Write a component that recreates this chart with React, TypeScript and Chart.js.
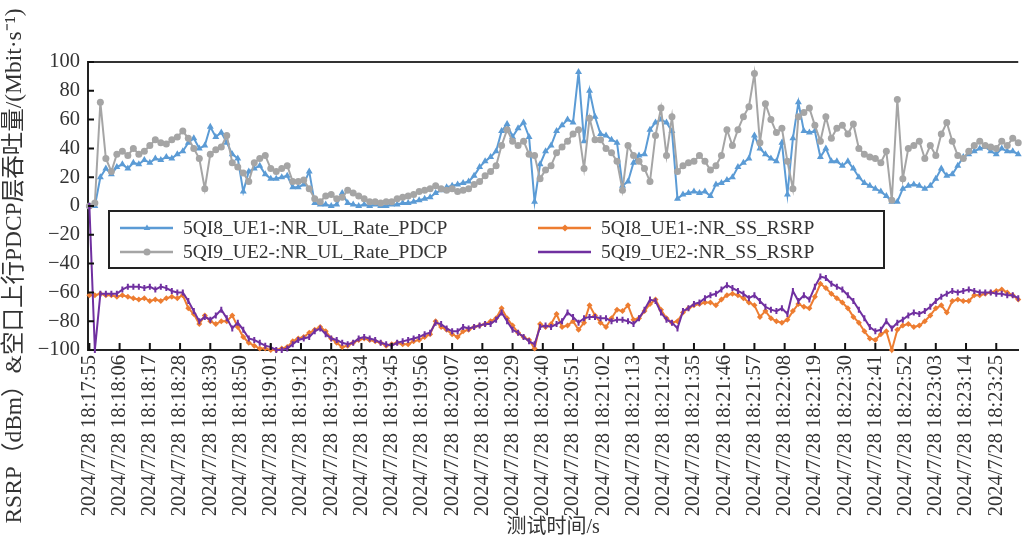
import React, { useEffect, useRef } from "react";
import { Chart, registerables } from "chart.js";
Chart.register(...registerables);

// ---------- data ----------
const seriesNames = [
  "5QI8_UE1-:NR_UL_Rate_PDCP",
  "5QI9_UE2-:NR_UL_Rate_PDCP",
  "5QI8_UE1-:NR_SS_RSRP",
  "5QI9_UE2-:NR_SS_RSRP",
];

const xTickLabels = [
  "2024/7/28 18:17:55", "2024/7/28 18:18:06", "2024/7/28 18:18:17", "2024/7/28 18:18:28",
  "2024/7/28 18:18:39", "2024/7/28 18:18:50", "2024/7/28 18:19:01", "2024/7/28 18:19:12",
  "2024/7/28 18:19:23", "2024/7/28 18:19:34", "2024/7/28 18:19:45", "2024/7/28 18:19:56",
  "2024/7/28 18:20:07", "2024/7/28 18:20:18", "2024/7/28 18:20:29", "2024/7/28 18:20:40",
  "2024/7/28 18:20:51", "2024/7/28 18:21:02", "2024/7/28 18:21:13", "2024/7/28 18:21:24",
  "2024/7/28 18:21:35", "2024/7/28 18:21:46", "2024/7/28 18:21:57", "2024/7/28 18:22:08",
  "2024/7/28 18:22:19", "2024/7/28 18:22:30", "2024/7/28 18:22:41", "2024/7/28 18:22:52",
  "2024/7/28 18:23:03", "2024/7/28 18:23:14", "2024/7/28 18:23:25",
];
const tickIntervalSec = 11;
const sampleStepSec = 2;
const yTicks = [-100, -80, -60, -40, -20, 0, 20, 40, 60, 80, 100];

const ue1Rate = [
  0, 0, 20, 26, 22, 27, 29, 26, 30, 29,
  32, 30, 33, 32, 34, 33, 36, 38, 44, 47,
  40, 42, 55, 48, 51, 44, 36, 33, 10, 24,
  26, 28, 22, 19, 19, 20, 21, 13, 13, 15,
  24, 2, 1, 1, 0, 1, 9, 2, 1, 0,
  1, 0, 1, 0, 0, 1, 1, 2, 2, 3,
  4, 5, 6, 9, 11, 13, 14, 15, 16, 17,
  21, 27, 31, 34, 38, 52, 57, 48, 54, 58,
  48, 3, 29, 38, 42, 52, 56, 60, 58, 93,
  45, 80, 62, 50, 49, 46, 44, 14, 17, 30,
  35, 36, 53, 58, 60, 58, 52, 5, 8, 9,
  10, 9, 10, 7, 15, 16, 18, 20, 27, 30,
  33, 49, 40, 36, 33, 31, 44, 8, 47, 72,
  52, 51, 52, 34, 40, 31, 31, 28, 31, 26,
  20, 16, 14, 12, 10, 7, 3, 3, 12, 14,
  15, 14, 12, 14, 19, 26, 21, 22, 28, 34,
  36, 38, 40, 41, 38, 36, 40, 38, 38, 36,
];

const ue2Rate = [
  0, 2, 72, 33, 24, 36, 38, 35, 40, 36,
  38, 42, 46, 44, 43, 46, 48, 52, 47, 40,
  33, 12, 36, 39, 41, 49, 30, 27, 23, 17,
  30, 33, 35, 26, 24, 26, 28, 17, 17, 18,
  12, 5, 3, 7, 8, 5, 6, 11, 9, 7,
  5, 3, 3, 2, 3, 3, 5, 6, 7, 8,
  10, 11, 12, 14, 12, 11, 12, 10, 11, 12,
  15, 17, 21, 24, 28, 42, 53, 45, 42, 45,
  36, 35, 19, 25, 28, 37, 41, 45, 50, 53,
  26, 61, 46, 46, 40, 37, 31, 11, 42, 35,
  31, 26, 17, 49, 68, 35, 62, 24, 28, 30,
  31, 35, 31, 25, 28, 35, 53, 42, 53, 62,
  69, 92, 44, 71, 60, 51, 54, 31, 12, 62,
  65, 68, 56, 45, 62, 47, 54, 56, 50, 57,
  40, 36, 34, 33, 30, 38, 4, 74, 19, 40,
  42, 45, 33, 42, 35, 50, 58, 45, 35, 33,
  38, 42, 45, 42, 41, 40, 45, 42, 47, 44,
];

const ue1Rsrp = [
  -62, -62, -61, -62, -62, -63, -62, -63, -64, -65,
  -64, -66, -65, -66, -64, -63, -64, -62, -71, -75,
  -82, -76, -80, -82, -80, -80, -76, -84, -91, -95,
  -97, -99, -99, -100, -100, -99, -98, -94, -92, -91,
  -88, -86, -84, -87, -92, -95, -98, -97, -95, -93,
  -92, -93, -94, -95, -97, -96, -95, -96, -96, -94,
  -93, -91, -89, -80, -84, -86, -89, -91, -87, -86,
  -84, -83, -82, -80, -78, -71, -78, -83, -88, -91,
  -93, -99, -82, -84, -82, -75, -84, -83, -80, -86,
  -81, -69, -76, -81, -84, -78, -72, -73, -69, -79,
  -78, -73, -68, -65, -72, -78, -81, -80, -74, -71,
  -69, -68, -67, -67, -69, -65, -62, -61, -62, -64,
  -67, -69, -77, -73, -78, -80, -81, -79, -73, -68,
  -70, -71, -63, -54, -57, -61, -64, -67, -71, -77,
  -81, -87, -92, -93, -89, -87, -100, -86, -83, -82,
  -84, -83, -80, -76, -71, -69, -74, -66, -65, -66,
  -66, -62, -62, -61, -60, -59, -58, -60, -62, -65,
];

const ue2Rsrp = [
  0, -100, -61, -61, -61, -61, -58, -56, -56, -56,
  -57, -56, -58, -56, -57, -59, -60, -60, -66, -73,
  -80, -77, -79, -76, -72, -78, -85, -81, -86, -92,
  -93, -95, -97, -98, -100, -100, -99, -96, -93, -92,
  -91, -87, -85, -89, -92, -93, -95, -96, -95, -92,
  -91, -92, -93, -95, -96, -97, -95, -94, -93, -92,
  -91, -89, -88, -81, -82, -85, -87, -87, -84, -85,
  -84, -83, -82, -82, -79, -74, -80, -86, -88, -91,
  -94, -96, -84, -83, -84, -82, -80, -74, -77, -81,
  -78, -77, -77, -78, -78, -80, -79, -79, -80, -82,
  -78, -72, -65, -66, -74, -79, -81, -85, -73, -71,
  -68, -67, -64, -62, -61, -58, -55, -57, -59, -61,
  -64, -62, -66, -70, -72, -73, -71, -75, -59, -66,
  -62, -65, -56, -49, -50, -54, -56, -58, -62, -66,
  -72, -78, -84, -87, -86, -80, -85, -81, -79, -76,
  -74, -75, -73, -70, -66, -63, -61, -59, -60, -59,
  -58, -59, -60, -60, -60, -61, -61, -62, -62, -64,
];

const yTitle = "RSRP（dBm）&空口上行PDCP层吞吐量/(Mbit·s⁻¹)";
const xTitle = "测试时间/s";

// ---------- styles ----------
const FONT = "'Liberation Serif', 'Noto Sans CJK SC', serif";
const TEXT = "#333333";
const colors = ["#5B9BD5", "#A5A5A5", "#ED7D31", "#7030A0"];
const markers = ["triangle", "circle", "rectRot", "line"];

const toXY = (arr: number[]) => arr.map((v, i) => ({ x: i * sampleStepSec, y: v }));

function drawMarker(ctx: CanvasRenderingContext2D, style: string, x: number, y: number, r: number, color: string) {
  ctx.save();
  ctx.fillStyle = color;
  ctx.strokeStyle = color;
  ctx.lineWidth = 2;
  ctx.beginPath();
  if (style === "triangle") {
    ctx.moveTo(x, y - r);
    ctx.lineTo(x + r * 0.95, y + r * 0.6);
    ctx.lineTo(x - r * 0.95, y + r * 0.6);
    ctx.closePath();
    ctx.fill();
  } else if (style === "circle") {
    ctx.arc(x, y, r, 0, Math.PI * 2);
    ctx.fill();
  } else if (style === "rectRot") {
    ctx.moveTo(x, y - r);
    ctx.lineTo(x + r, y);
    ctx.lineTo(x, y + r);
    ctx.lineTo(x - r, y);
    ctx.closePath();
    ctx.fill();
  }
  ctx.restore();
}

const decorPlugin = {
  id: "decor",
  afterDraw(chart: any) {
    const { ctx, chartArea: a, scales } = chart;
    const xs = scales.x;
    const ys = scales.y;
    ctx.save();
    // top frame
    ctx.strokeStyle = "#333";
    ctx.lineWidth = 2;
    ctx.beginPath();
    ctx.moveTo(a.left, a.top);
    ctx.lineTo(a.right, a.top);
    ctx.stroke();
    // inward ticks
    ctx.strokeStyle = "#111";
    ctx.lineWidth = 2;
    ctx.beginPath();
    for (const t of ys.ticks) {
      const y = ys.getPixelForValue(t.value);
      ctx.moveTo(a.left, y);
      ctx.lineTo(a.left + 6, y);
    }
    for (const t of xs.ticks) {
      const x = xs.getPixelForValue(t.value);
      ctx.moveTo(x, a.bottom);
      ctx.lineTo(x, a.bottom - 7);
    }
    ctx.stroke();

    // legend
    const bx = 109, by = 211, bw = 775, bh = 57;
    ctx.fillStyle = "#fff";
    ctx.fillRect(bx, by, bw, bh);
    ctx.strokeStyle = "#222";
    ctx.lineWidth = 2;
    ctx.strokeRect(bx, by, bw, bh);
    const order = [0, 2, 1, 3];
    const colX = [120, 538];
    const rowY = [228, 252];
    ctx.font = `19.5px ${FONT}`;
    ctx.textBaseline = "middle";
    ctx.textAlign = "left";
    order.forEach((si, k) => {
      const col = k % 2;
      const row = Math.floor(k / 2);
      const lx = colX[col];
      const ly = rowY[row];
      ctx.strokeStyle = colors[si];
      ctx.lineWidth = 2.5;
      ctx.beginPath();
      ctx.moveTo(lx, ly);
      ctx.lineTo(lx + 53, ly);
      ctx.stroke();
      drawMarker(ctx, markers[si], lx + 27, ly, 3.5, colors[si]);
      ctx.fillStyle = TEXT;
      ctx.fillText(seriesNames[si], lx + 63, ly + 1);
    });

    // axis titles
    ctx.fillStyle = TEXT;
    ctx.font = `23.5px ${FONT}`;
    ctx.textAlign = "center";
    ctx.textBaseline = "middle";
    ctx.save();
    ctx.translate(15, 266);
    ctx.rotate(-Math.PI / 2);
    ctx.fillText(yTitle, 0, 0);
    ctx.restore();
    ctx.font = `20px ${FONT}`;
    ctx.fillText(xTitle, (a.left + a.right) / 2, 528);
    ctx.restore();
  },
};

export default function App() {
  const ref = useRef<HTMLCanvasElement>(null);
  useEffect(() => {
    const canvas = ref.current;
    if (!canvas) return;
    const data = [ue1Rate, ue2Rate, ue1Rsrp, ue2Rsrp];
    const drawOrder = [3, 1, 2, 0];
    const chart = new Chart(canvas, {
      type: "line",
      data: {
        datasets: data.map((arr, si) => ({
          label: seriesNames[si],
          data: toXY(arr),
          borderColor: colors[si],
          backgroundColor: colors[si],
          borderWidth: 2,
          pointStyle: markers[si] as any,
          pointRadius: si === 0 ? 4 : si === 1 ? 3.5 : 3,
          pointRotation: si === 3 ? 90 : 0,
          pointBorderWidth: si === 3 ? 2 : 0,
          pointBorderColor: colors[si],
          pointBackgroundColor: colors[si],
          tension: 0,
          order: drawOrder[si],
          clip: 4,
        })),
      },
      plugins: [decorPlugin],
      options: {
        responsive: false,
        animation: false,
        devicePixelRatio: 1,
        layout: { padding: { top: 62, left: 0, right: 0, bottom: 0 } },
        plugins: {
          legend: { display: false },
          tooltip: { enabled: false },
          title: { display: false },
        },
        scales: {
          x: {
            type: "linear",
            min: -0.5,
            max: 338,
            afterFit: (s: any) => {
              s.height = 190;
            },
            afterBuildTicks: (s: any) => {
              s.ticks = xTickLabels.map((_, i) => ({ value: i * tickIntervalSec }));
            },
            grid: { display: true, drawOnChartArea: false, drawTicks: false },
            border: { display: true, color: "#222", width: 2 },
            ticks: {
              autoSkip: false,
              minRotation: 90,
              maxRotation: 90,
              padding: 5,
              color: TEXT,
              font: { family: FONT, size: 20.5 },
              callback: (v: any) => {
                const idx = Math.round(Number(v) / tickIntervalSec);
                return xTickLabels[idx] ?? "";
              },
            },
          },
          y: {
            min: -100,
            max: 100,
            afterFit: (s: any) => {
              s.width = 88;
            },
            afterBuildTicks: (s: any) => {
              s.ticks = yTicks.map((v) => ({ value: v }));
            },
            grid: { display: true, drawOnChartArea: false, drawTicks: false },
            border: { display: true, color: "#222", width: 2 },
            ticks: {
              padding: 8,
              color: TEXT,
              font: { family: FONT, size: 20.5 },
              callback: (v: any) => String(v).replace("-", "\u2212"),
            },
          },
        },
      },
    } as any);
    return () => chart.destroy();
  }, []);
  return (
    <div style={{ position: "absolute", left: 0, top: 0, width: 1026, height: 540, background: "#fff" }}>
      <canvas ref={ref} width={1026} height={540} style={{ width: 1026, height: 540, display: "block" }} />
    </div>
  );
}
